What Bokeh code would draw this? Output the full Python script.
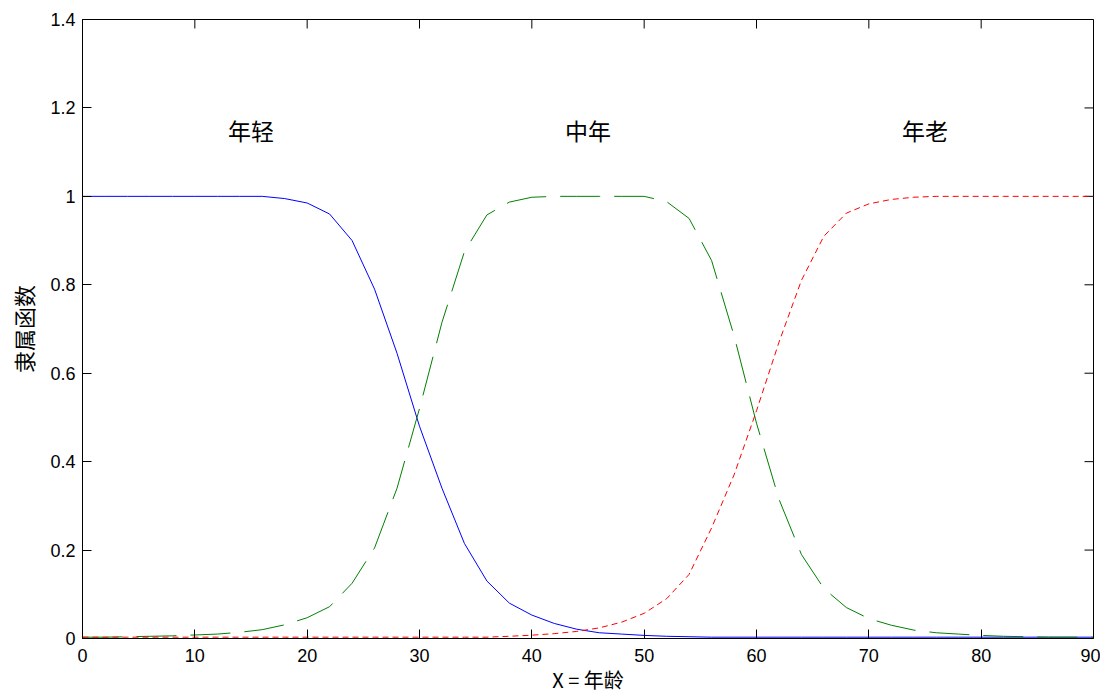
import math
from bokeh.plotting import figure
from bokeh.models import FixedTicker, Range1d, ColumnDataSource
from bokeh.core.properties import value
from bokeh.embed import file_html
from bokeh.resources import INLINE

# ---- data ----
ages = [0, 2, 4, 6, 8, 10, 12, 14, 16, 18, 20, 22, 24, 26, 28, 30, 32, 34, 36, 38,
        40, 42, 44, 46, 48, 50, 52, 54, 56, 58, 60, 62, 64, 66, 68, 70, 72, 74, 76, 78,
        80, 82, 84, 86, 88, 90]
young = [1, 1, 1, 1, 1, 1, 1, 1, 1, 0.995, 0.985, 0.96, 0.90, 0.79, 0.645, 0.48, 0.34,
         0.215, 0.13, 0.08, 0.053, 0.034, 0.021, 0.013, 0.010, 0.007, 0.005, 0.004,
         0.003, 0.003, 0.003, 0.003, 0.003, 0.003, 0.003, 0.003, 0.003, 0.003, 0.003,
         0.003, 0.003, 0.003, 0.003, 0.003, 0.003, 0.003]
middle = [0.003, 0.003, 0.004, 0.005, 0.006, 0.008, 0.010, 0.014, 0.020, 0.031, 0.047,
          0.072, 0.125, 0.205, 0.34, 0.52, 0.715, 0.875, 0.958, 0.987, 0.998, 1, 1, 1,
          1, 1, 0.988, 0.95, 0.855, 0.685, 0.487, 0.315, 0.19, 0.113, 0.07, 0.045, 0.03,
          0.019, 0.013, 0.01, 0.007, 0.005, 0.004, 0.003, 0.003, 0.003]
old = [0.003, 0.003, 0.003, 0.003, 0.003, 0.003, 0.003, 0.003, 0.003, 0.003, 0.003,
       0.003, 0.003, 0.003, 0.003, 0.003, 0.003, 0.003, 0.003, 0.005, 0.0075, 0.011,
       0.016, 0.024, 0.037, 0.057, 0.09, 0.145, 0.25, 0.37, 0.515, 0.67, 0.81, 0.91,
       0.962, 0.983, 0.993, 0.998, 1, 1, 1, 1, 1, 1, 1, 1]

label_texts = ["年轻", "中年", "年老"]
label_x = [15, 45, 75]
label_y = [1.15, 1.15, 1.15]

x_ticks = [0, 10, 20, 30, 40, 50, 60, 70, 80, 90]
y_ticks = [0, 0.2, 0.4, 0.6, 0.8, 1.0, 1.2, 1.4]
y_tick_labels = ["0", "0.2", "0.4", "0.6", "0.8", "1", "1.2", "1.4"]

x_title = "X = 年龄"
y_title = "隶属函数"

X_MIN, X_MAX = 0, 90
Y_MIN, Y_MAX = 0, 1.4

# ---- figure ----
NUM_FONT = "Liberation Sans"
CJK_FONT = "Noto Sans CJK SC"

p = figure(width=1100, height=696,
           x_range=Range1d(X_MIN, X_MAX), y_range=Range1d(Y_MIN, Y_MAX),
           output_backend="svg", toolbar_location=None,
           min_border_left=82, min_border_top=19, min_border_right=7,
           min_border_bottom=56)
p.grid.visible = False
p.outline_line_color = "black"
p.outline_line_width = 1
p.background_fill_color = "white"
p.border_fill_color = "white"

TICK_LEN = 9
for ax in (p.xaxis[0], p.yaxis[0]):
    ax.major_tick_in = TICK_LEN
    ax.major_tick_out = 0
    ax.minor_tick_line_color = None
    ax.axis_line_color = "black"
    ax.major_tick_line_color = "black"
    ax.major_label_text_font = NUM_FONT
    ax.major_label_text_font_size = "18px"
    ax.major_label_text_color = "black"
    ax.axis_label_text_font = CJK_FONT
    ax.axis_label_text_font_style = "normal"
    ax.axis_label_text_color = "black"

p.xaxis.ticker = FixedTicker(ticks=x_ticks)
p.yaxis.ticker = FixedTicker(ticks=y_ticks)
p.yaxis.major_label_overrides = {t: l for t, l in zip(y_ticks, y_tick_labels)}
p.xaxis.major_label_standoff = 10
p.yaxis.major_label_standoff = 7

p.xaxis.axis_label = x_title
p.yaxis.axis_label = y_title
p.xaxis.axis_label_text_font_size = "20px"
p.yaxis.axis_label_text_font_size = "22px"
p.xaxis.axis_label_standoff = 0
p.yaxis.axis_label_standoff = 8

# inward ticks on the top and right edges of the box
p.ray(x=x_ticks, y=[Y_MAX] * len(x_ticks), length=TICK_LEN, length_units="screen",
      angle=-math.pi / 2, line_color="black", line_width=1)
p.ray(x=[X_MAX] * len(y_ticks), y=y_ticks, length=TICK_LEN, length_units="screen",
      angle=math.pi, line_color="black", line_width=1)

src = ColumnDataSource(dict(x=ages, young=young, middle=middle, old=old))
p.line("x", "young", source=src, line_color="#0000FF", line_width=1)
p.line("x", "middle", source=src, line_color="#008000", line_width=1, line_dash="40 14")
p.line("x", "old", source=src, line_color="#FF0000", line_width=1, line_dash="6 4")

lsrc = ColumnDataSource(dict(x=label_x, y=label_y, t=label_texts))
p.text("x", "y", text="t", source=lsrc, text_font=value(CJK_FONT),
       text_font_size="23px", text_align="center", text_baseline="middle",
       text_color="black")

open("out.html", "w").write(file_html(p, INLINE))
